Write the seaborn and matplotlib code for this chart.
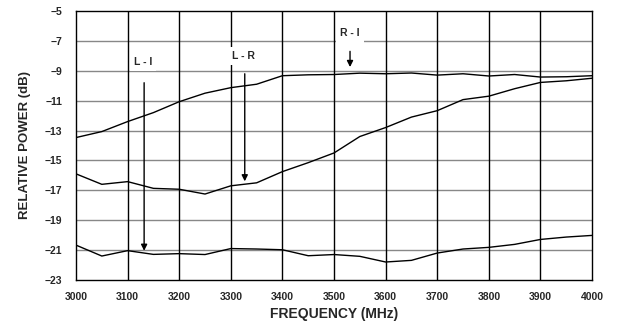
#!/usr/bin/env python3
import numpy as np
import matplotlib
matplotlib.use("Agg")
import matplotlib.pyplot as plt
import pandas as pd
import seaborn as sns

sns.set_style("white")
plt.rcParams['font.family'] = ['Liberation Sans', 'DejaVu Sans']
plt.rcParams['font.weight'] = 'bold'

freq = [3000, 3050, 3100, 3150, 3200, 3250, 3300, 3350, 3400, 3450, 3500,
        3550, 3600, 3650, 3700, 3750, 3800, 3850, 3900, 3950, 4000]

r_i = [-13.47, -13.07, -12.4, -11.8, -11.07, -10.5, -10.13, -9.9, -9.33, -9.27, -9.25,
       -9.16, -9.2, -9.15, -9.29, -9.2, -9.35, -9.25, -9.42, -9.4, -9.33]
l_r = [-15.9, -16.6, -16.42, -16.87, -16.93, -17.25, -16.7, -16.5, -15.75, -15.15, -14.5,
       -13.4, -12.8, -12.1, -11.67, -10.93, -10.7, -10.2, -9.78, -9.67, -9.5]
l_i = [-20.67, -21.4, -21.04, -21.29, -21.24, -21.3, -20.9, -20.93, -20.98, -21.38, -21.3,
       -21.42, -21.8, -21.69, -21.2, -20.93, -20.82, -20.62, -20.29, -20.13, -20.02]

# label, text position, arrow start, arrow tip
notes = [
    ("L - I", (3130, -8.4), (3132, -9.8), (3132, -21.05)),
    ("L - R", (3324, -8.0), (3327, -9.2), (3327, -16.4)),
    ("R - I", (3531, -6.5), (3531, -7.7), (3531, -8.75)),
]

df = pd.DataFrame({"freq": freq * 3,
                   "power": r_i + l_r + l_i,
                   "curve": ["R-I"] * len(freq) + ["L-R"] * len(freq) + ["L-I"] * len(freq)})

fig, ax = plt.subplots(figsize=(6.18, 3.24), dpi=100)
fig.subplots_adjust(left=0.123, right=0.958, top=0.966, bottom=0.136)

sns.lineplot(data=df, x="freq", y="power", units="curve", estimator=None,
             color="black", linewidth=1.0, ax=ax, legend=False)

ax.set_xlim(3000, 4000)
ax.set_ylim(-23, -5)
ax.set_xticks(np.arange(3000, 4001, 100))
ax.set_yticks(np.arange(-23, -4, 2))
ax.tick_params(axis='both', length=0, labelsize=7.5)
ax.tick_params(axis='x', pad=9)
ax.tick_params(axis='y', pad=10)
for lab in ax.get_xticklabels() + ax.get_yticklabels():
    lab.set_fontweight('bold')

for y in np.arange(-21, -5, 2):
    ax.axhline(y, color="#888888", linewidth=1.0, zorder=0)
for x in np.arange(3100, 4000, 100):
    ax.axvline(x, color="black", linewidth=1.0, zorder=0)
for s in ax.spines.values():
    s.set_color("black")
    s.set_linewidth(1.0)

ax.set_xlabel("FREQUENCY (MHz)", fontsize=10, fontweight='bold', labelpad=3)
ax.set_ylabel("RELATIVE POWER (dB)", fontsize=9.5, fontweight='bold', labelpad=10)

for label, txt, start, tip in notes:
    ax.text(txt[0], txt[1], label, fontsize=7.5, fontweight='bold', ha='center', va='center',
            bbox=dict(facecolor='white', edgecolor='none', pad=3), zorder=3)
    ax.annotate("", xy=tip, xytext=start,
                arrowprops=dict(arrowstyle='-|>', color='black', lw=1.0,
                                mutation_scale=9, shrinkA=0, shrinkB=0), zorder=4)

fig.savefig("out.png", dpi=100)
